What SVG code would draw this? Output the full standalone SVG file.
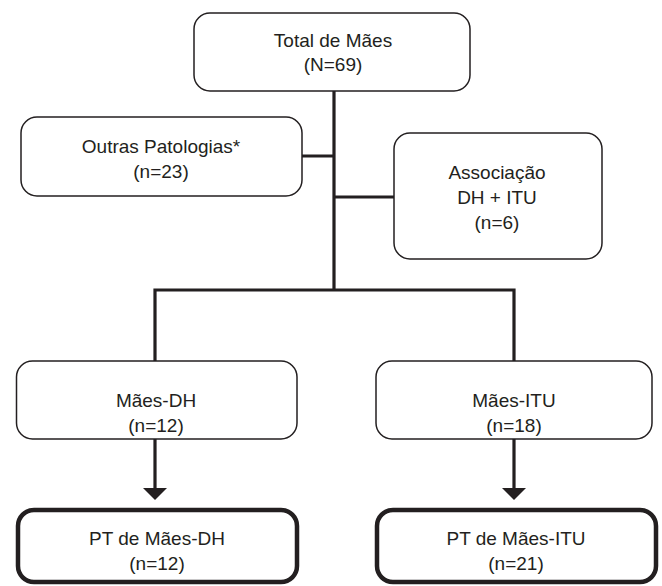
<svg xmlns="http://www.w3.org/2000/svg" width="662" height="586" viewBox="0 0 662 586">
<style>
.box{fill:#fff;stroke:#231f20;stroke-width:1.5}
.bold{fill:#fff;stroke:#231f20;stroke-width:4.5}
.t{font-family:"Liberation Sans",Arial,sans-serif;font-size:19px;fill:#231f20;text-anchor:middle}
.c{fill:none;stroke:#231f20;stroke-width:3.2}
.ah{fill:#231f20}
</style>
<rect width="662" height="586" fill="#fff"/>
<g id="connectors">
<path class="c" d="M334 91 V290 M302 156 H334 M334 197 H394 M155 361 V290 H514 V361 M155 439 V489 M514 439 V489"/>
<polygon class="ah" points="143,488 167,488 155,500"/>
<polygon class="ah" points="502,488 526,488 514,500"/>
</g>
<g id="total">
<rect class="box" x="194" y="13" width="276" height="78" rx="16"/>
<text class="t" x="333" y="47">Total de Mães</text>
<text class="t" x="333" y="71">(N=69)</text>
</g>
<g id="outras">
<rect class="box" x="21" y="117" width="281" height="79" rx="16"/>
<text class="t" x="161" y="153">Outras Patologias*</text>
<text class="t" x="161" y="178">(n=23)</text>
</g>
<g id="associacao">
<rect class="box" x="394" y="133" width="208" height="126" rx="16"/>
<text class="t" x="497" y="179">Associação</text>
<text class="t" x="497" y="204">DH + ITU</text>
<text class="t" x="497" y="229">(n=6)</text>
</g>
<g id="maes-dh">
<rect class="box" x="16.5" y="361" width="280.5" height="78" rx="16"/>
<text class="t" x="156" y="407">Mães-DH</text>
<text class="t" x="156" y="432">(n=12)</text>
</g>
<g id="maes-itu">
<rect class="box" x="376" y="361" width="276" height="78" rx="16"/>
<text class="t" x="514" y="407">Mães-ITU</text>
<text class="t" x="514" y="432">(n=18)</text>
</g>
<g id="pt-dh">
<rect class="bold" x="18" y="510" width="279" height="72" rx="16"/>
<text class="t" x="157" y="545">PT de Mães-DH</text>
<text class="t" x="157" y="570">(n=12)</text>
</g>
<g id="pt-itu">
<rect class="bold" x="377" y="510" width="279" height="72" rx="16"/>
<text class="t" x="516" y="545">PT de Mães-ITU</text>
<text class="t" x="516" y="570">(n=21)</text>
</g>
</svg>
